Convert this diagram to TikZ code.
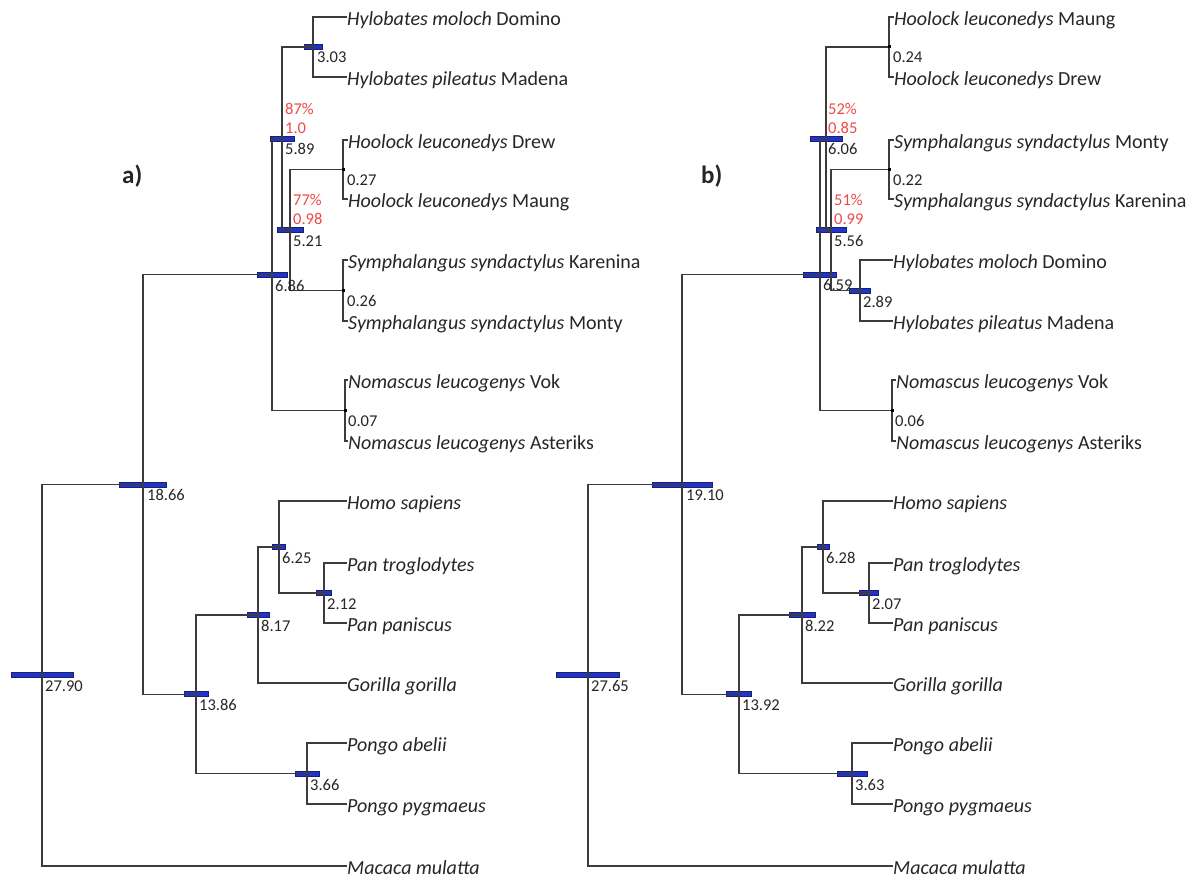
\documentclass[tikz,border=0pt]{standalone}
\usepackage{fontspec}
\setmainfont{Carlito}
\usetikzlibrary{calc}
\definecolor{linec}{HTML}{3C3C3C}
\definecolor{barfill}{HTML}{2233C8}
\definecolor{bardraw}{HTML}{1A2070}
\definecolor{redc}{HTML}{F04848}
\definecolor{txt}{HTML}{262626}
\begin{document}
\begin{tikzpicture}[x=1pt,y=-1pt,
  br/.style={draw=linec, line width=1.1pt},
  bar/.style={rectangle, draw=bardraw, fill=barfill, line width=0.6pt, minimum height=5pt, inner sep=0pt},
  knot/.style={rectangle, fill=black, minimum size=3pt, inner sep=0pt},
  tip/.style={anchor=west, inner sep=0pt, font=\fontsize{20}{22}\selectfont, text=txt, text height=16.4pt, text depth=0pt},
  num/.style={anchor=base west, inner sep=0pt, font=\fontsize{16.5}{18}\selectfont, text=txt},
  supp/.style={num, text=redc},
  panel/.style={anchor=base west, inner sep=0pt, font=\fontsize{25}{28}\selectfont\bfseries, text=txt}]
\useasboundingbox[fill=white] (0,0) rectangle (1191,877);

% ---------------- panel a) internal nodes
\coordinate (aR) at (42,675.2);
\coordinate (a1866) at (143,484.4);
\coordinate (a686) at (272,274.5);
\coordinate (a589) at (282,138.5);
\coordinate (a303) at (313,47);
\coordinate (a521) at (290,230);
\coordinate (a027) at (343,169.5);
\coordinate (a026) at (343,290.5);
\coordinate (a007) at (345,410.5);
\coordinate (a1386) at (196,694.25);
\coordinate (a817) at (258,615);
\coordinate (a625) at (279,547);
\coordinate (a212) at (324,593);
\coordinate (a366) at (307,773.5);

% ---------------- panel b) internal nodes
\coordinate (bR) at (588,675.2);
\coordinate (b1910) at (682,484.4);
\coordinate (b659) at (820,274.5);
\coordinate (b606) at (826,138.5);
\coordinate (b024) at (889,47);
\coordinate (b556) at (831,230);
\coordinate (b022) at (889,169.5);
\coordinate (b289) at (860,290.5);
\coordinate (b006) at (892,410.5);
\coordinate (b1392) at (739,694.25);
\coordinate (b822) at (802,615);
\coordinate (b628) at (823,547);
\coordinate (b207) at (869,593);
\coordinate (b363) at (852,773.5);

% ---------------- bars (confidence intervals)
\node[bar, minimum width=62pt] (barR) at (aR) {};
\node[bar, minimum width=47pt] (bar1866) at (a1866) {};
\node[bar, minimum width=30pt] (bar686) at (a686) {};
\node[bar, minimum width=24pt] (bar589) at (a589) {};
\node[bar, minimum width=18pt] (bar303) at (a303) {};
\node[bar, minimum width=26pt] (bar521) at (a521) {};
\node[bar, minimum width=24pt] (bar1386) at (a1386) {};
\node[bar, minimum width=22pt] (bar817) at (a817) {};
\node[bar, minimum width=13pt] (bar625) at (a625) {};
\node[bar, minimum width=15pt] (bar212) at (a212) {};
\node[bar, minimum width=24pt] (bar366) at (a366) {};

\node[bar, minimum width=63pt] (bbarR) at (bR) {};
\node[bar, minimum width=60pt] (bbar1910) at (b1910) {};
\node[bar, minimum width=33pt] (bbar659) at (b659) {};
\node[bar, minimum width=32pt] (bbar606) at (b606) {};
\node[bar, minimum width=30pt] (bbar556) at (b556) {};
\node[bar, minimum width=21pt] (bbar289) at (b289) {};
\node[bar, minimum width=25pt] (bbar1392) at (b1392) {};
\node[bar, minimum width=26pt] (bbar822) at (b822) {};
\node[bar, minimum width=12pt] (bbar628) at (b628) {};
\node[bar, minimum width=19pt] (bbar207) at (b207) {};
\node[bar, minimum width=30pt] (bbar363) at (b363) {};

% ---------------- tips a)
\node[tip] (aDom) at (347,17) {\textit{Hylobates moloch} Domino};
\node[tip] (aMad) at (347,77) {\textit{Hylobates pileatus} Madena};
\node[tip] (aDrew) at (348,140) {\textit{Hoolock leuconedys} Drew};
\node[tip] (aMaung) at (348,199) {\textit{Hoolock leuconedys} Maung};
\node[tip] (aKar) at (348,260) {\textit{Symphalangus syndactylus} Karenina};
\node[tip] (aMon) at (348,321) {\textit{Symphalangus syndactylus} Monty};
\node[tip] (aVok) at (348,380) {\textit{Nomascus leucogenys} Vok};
\node[tip] (aAst) at (348,441) {\textit{Nomascus leucogenys} Asteriks};
\node[tip] (aHomo) at (347,501) {\textit{Homo sapiens}};
\node[tip] (aPtr) at (347,563) {\textit{Pan troglodytes}};
\node[tip] (aPpa) at (347,623) {\textit{Pan paniscus}};
\node[tip] (aGor) at (347,683) {\textit{Gorilla gorilla}};
\node[tip] (aPab) at (347,743) {\textit{Pongo abelii}};
\node[tip] (aPpy) at (347,804) {\textit{Pongo pygmaeus}};
\node[tip] (aMac) at (347,866) {\textit{Macaca mulatta}};

% ---------------- tips b)
\node[tip] (bMaung) at (894,17) {\textit{Hoolock leuconedys} Maung};
\node[tip] (bDrew) at (894,77) {\textit{Hoolock leuconedys} Drew};
\node[tip] (bMon) at (894,140) {\textit{Symphalangus syndactylus} Monty};
\node[tip] (bKar) at (894,199) {\textit{Symphalangus syndactylus} Karenina};
\node[tip] (bDom) at (893,260) {\textit{Hylobates moloch} Domino};
\node[tip] (bMad) at (893,321) {\textit{Hylobates pileatus} Madena};
\node[tip] (bVok) at (896,380) {\textit{Nomascus leucogenys} Vok};
\node[tip] (bAst) at (896,441) {\textit{Nomascus leucogenys} Asteriks};
\node[tip] (bHomo) at (893,501) {\textit{Homo sapiens}};
\node[tip] (bPtr) at (893,563) {\textit{Pan troglodytes}};
\node[tip] (bPpa) at (893,623) {\textit{Pan paniscus}};
\node[tip] (bGor) at (893,683) {\textit{Gorilla gorilla}};
\node[tip] (bPab) at (893,743) {\textit{Pongo abelii}};
\node[tip] (bPpy) at (893,804) {\textit{Pongo pygmaeus}};
\node[tip] (bMac) at (893,866) {\textit{Macaca mulatta}};

% ---------------- branches a)
\draw[br] (aR) |- (a1866);   \draw[br] (aR) |- (aMac.west);
\draw[br] (a1866) |- (a686); \draw[br] (a1866) |- (a1386);
\draw[br] (a686) |- (a589);  \draw[br] (a686) |- (a007);
\draw[br] (a589) |- (a303);  \draw[br] (a589) |- (a521);
\draw[br] (a303) |- (aDom.west); \draw[br] (a303) |- (aMad.west);
\draw[br] (a521) |- (a027);  \draw[br] (a521) |- (a026);
\draw[br] (a027) |- (aDrew.west); \draw[br] (a027) |- (aMaung.west);
\draw[br] (a026) |- (aKar.west);  \draw[br] (a026) |- (aMon.west);
\draw[br] (a007) |- (aVok.west);  \draw[br] (a007) |- (aAst.west);
\draw[br] (a1386) |- (a817); \draw[br] (a1386) |- (a366);
\draw[br] (a817) |- (a625);  \draw[br] (a817) |- (aGor.west);
\draw[br] (a625) |- (aHomo.west); \draw[br] (a625) |- (a212);
\draw[br] (a212) |- (aPtr.west); \draw[br] (a212) |- (aPpa.west);
\draw[br] (a366) |- (aPab.west); \draw[br] (a366) |- (aPpy.west);

% ---------------- branches b)
\draw[br] (bR) |- (b1910);   \draw[br] (bR) |- (bMac.west);
\draw[br] (b1910) |- (b659); \draw[br] (b1910) |- (b1392);
\draw[br] (b659) |- (b606);  \draw[br] (b659) |- (b006);
\draw[br] (b606) |- (b024);  \draw[br] (b606) |- (b556);
\draw[br] (b024) |- (bMaung.west); \draw[br] (b024) |- (bDrew.west);
\draw[br] (b556) |- (b022);  \draw[br] (b556) |- (b289);
\draw[br] (b022) |- (bMon.west); \draw[br] (b022) |- (bKar.west);
\draw[br] (b289) |- (bDom.west); \draw[br] (b289) |- (bMad.west);
\draw[br] (b006) |- (bVok.west); \draw[br] (b006) |- (bAst.west);
\draw[br] (b1392) |- (b822); \draw[br] (b1392) |- (b363);
\draw[br] (b822) |- (b628);  \draw[br] (b822) |- (bGor.west);
\draw[br] (b628) |- (bHomo.west); \draw[br] (b628) |- (b207);
\draw[br] (b207) |- (bPtr.west); \draw[br] (b207) |- (bPpa.west);
\draw[br] (b363) |- (bPab.west); \draw[br] (b363) |- (bPpy.west);

% ---------------- knots on short branches
\node[knot] (ka027) at (a027) {};
\node[knot] (ka026) at (a026) {};
\node[knot] (ka007) at (a007) {};
\node[knot] (kb024) at (b024) {};
\node[knot] (kb022) at (b022) {};
\node[knot] (kb006) at (b006) {};

% ---------------- node ages a)
\node[num] (la2790) at ($(aR)+(3,16.5)$) {27.90};
\node[num] (la1866) at ($(a1866)+(4,16.5)$) {18.66};
\node[num] (la686) at ($(a686)+(3,16.5)$) {6.86};
\node[num] (la589) at ($(a589)+(3,16.5)$) {5.89};
\node[supp] (sa589b) at ($(a589)+(3,-4.5)$) {1.0};
\node[supp] (sa589a) at ($(a589)+(3,-24)$) {87\%};
\node[num] (la303) at ($(a303)+(4,16)$) {3.03};
\node[num] (la521) at ($(a521)+(3,16.5)$) {5.21};
\node[supp] (sa521b) at ($(a521)+(3,-5)$) {0.98};
\node[supp] (sa521a) at ($(a521)+(3,-24.5)$) {77\%};
\node[num] (la027) at ($(a027)+(4,16)$) {0.27};
\node[num] (la026) at ($(a026)+(4,16)$) {0.26};
\node[num] (la007) at ($(a007)+(3,16)$) {0.07};
\node[num] (la1386) at ($(a1386)+(3,16.5)$) {13.86};
\node[num] (la817) at ($(a817)+(3,16.5)$) {8.17};
\node[num] (la625) at ($(a625)+(3,16.5)$) {6.25};
\node[num] (la212) at ($(a212)+(3,16.5)$) {2.12};
\node[num] (la366) at ($(a366)+(3,16.5)$) {3.66};

% ---------------- node ages b)
\node[num] (lb2765) at ($(bR)+(3,16.5)$) {27.65};
\node[num] (lb1910) at ($(b1910)+(4,16.5)$) {19.10};
\node[num] (lb659) at ($(b659)+(3,16)$) {6.59};
\node[num] (lb606) at ($(b606)+(2,16.5)$) {6.06};
\node[supp] (sb606b) at ($(b606)+(2,-4.5)$) {0.85};
\node[supp] (sb606a) at ($(b606)+(2,-24)$) {52\%};
\node[num] (lb556) at ($(b556)+(3,16.5)$) {5.56};
\node[supp] (sb556b) at ($(b556)+(3,-5)$) {0.99};
\node[supp] (sb556a) at ($(b556)+(3,-24.5)$) {51\%};
\node[num] (lb024) at ($(b024)+(4,16)$) {0.24};
\node[num] (lb022) at ($(b022)+(4,16)$) {0.22};
\node[num] (lb289) at ($(b289)+(3,16.5)$) {2.89};
\node[num] (lb006) at ($(b006)+(3,16)$) {0.06};
\node[num] (lb1392) at ($(b1392)+(3,16.5)$) {13.92};
\node[num] (lb822) at ($(b822)+(3,16.5)$) {8.22};
\node[num] (lb628) at ($(b628)+(3,16.5)$) {6.28};
\node[num] (lb207) at ($(b207)+(3,16.5)$) {2.07};
\node[num] (lb363) at ($(b363)+(3,16.5)$) {3.63};

% ---------------- panel letters
\node[panel] (pa) at (122,184) {a)};
\node[panel] (pb) at (701,184) {b)};
\end{tikzpicture}
\end{document}
